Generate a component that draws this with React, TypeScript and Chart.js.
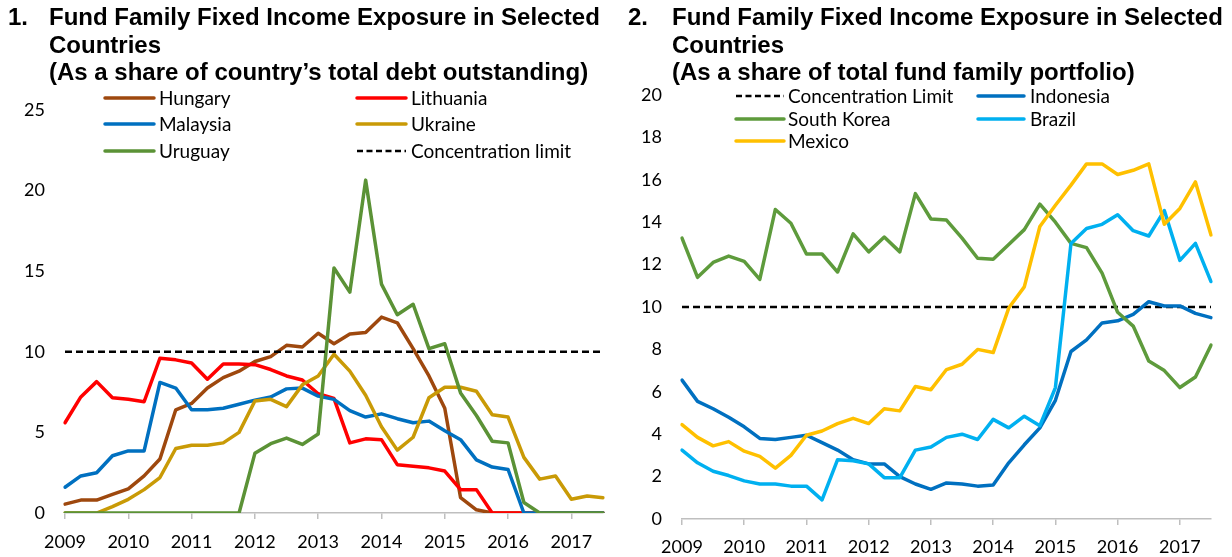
import React, { useEffect, useRef } from "react";
import { Chart, registerables } from "chart.js";

Chart.register(...registerables);

// ---------- categories (quarterly, 2009Q1 – 2017Q3) ----------
const quarters = [
  "2009Q1", "2009Q2", "2009Q3", "2009Q4",
  "2010Q1", "2010Q2", "2010Q3", "2010Q4",
  "2011Q1", "2011Q2", "2011Q3", "2011Q4",
  "2012Q1", "2012Q2", "2012Q3", "2012Q4",
  "2013Q1", "2013Q2", "2013Q3", "2013Q4",
  "2014Q1", "2014Q2", "2014Q3", "2014Q4",
  "2015Q1", "2015Q2", "2015Q3", "2015Q4",
  "2016Q1", "2016Q2", "2016Q3", "2016Q4",
  "2017Q1", "2017Q2", "2017Q3",
];

// ---------- panel 1: share of country's total debt outstanding ----------
const hungary = [
  0.55, 0.8, 0.8, 1.15, 1.5, 2.3, 3.35, 6.4, 6.8, 7.75, 8.4, 8.8,
  9.4, 9.7, 10.4, 10.3, 11.15, 10.5, 11.1, 11.2, 12.15, 11.8, 10.2, 8.5,
  6.5, 0.95, 0.2, 0, 0, 0, 0, 0, 0, 0, 0,
];
const lithuania = [
  5.6, 7.2, 8.15, 7.15, 7.05, 6.9, 9.6, 9.5, 9.3, 8.3, 9.25, 9.25,
  9.2, 8.9, 8.5, 8.25, 7.4, 7.1, 4.35, 4.6, 4.55, 3.0, 2.9, 2.8,
  2.6, 1.45, 1.45, 0, 0, 0, 0, 0, 0, 0, 0,
];
const malaysia = [
  1.6, 2.3, 2.5, 3.55, 3.85, 3.85, 8.1, 7.75, 6.4, 6.4, 6.5, 6.75,
  7.0, 7.2, 7.7, 7.75, 7.25, 7.05, 6.35, 5.95, 6.15, 5.85, 5.6, 5.7,
  5.1, 4.55, 3.3, 2.85, 2.7, 0, 0, 0, 0, 0, 0,
];
const ukraine = [
  0, 0, 0, 0.4, 0.85, 1.45, 2.2, 4.0, 4.2, 4.2, 4.35, 5.0,
  6.95, 7.05, 6.6, 7.95, 8.5, 9.85, 8.8, 7.3, 5.35, 3.9, 4.7, 7.15,
  7.8, 7.8, 7.55, 6.1, 5.95, 3.45, 2.1, 2.3, 0.85, 1.05, 0.95,
];
const uruguay = [
  0, 0, 0, 0, 0, 0, 0, 0, 0, 0, 0, 0,
  3.7, 4.3, 4.65, 4.25, 4.9, 15.2, 13.7, 20.65, 14.2, 12.3, 12.95, 10.2,
  10.5, 7.45, 6.05, 4.45, 4.35, 0.65, 0, 0, 0, 0, 0,
];
const concentrationLimit1 = Array(quarters.length).fill(10);

// ---------- panel 2: share of total fund family portfolio ----------
const indonesia = [
  6.55, 5.55, 5.2, 4.8, 4.35, 3.8, 3.75, 3.85, 3.95, 3.6, 3.25, 2.8,
  2.6, 2.6, 2.0, 1.65, 1.4, 1.7, 1.65, 1.55, 1.6, 2.65, 3.5, 4.3,
  5.6, 7.9, 8.45, 9.25, 9.35, 9.65, 10.25, 10.05, 10.05, 9.7, 9.5,
];
const southKorea = [
  13.25, 11.4, 12.1, 12.4, 12.15, 11.3, 14.6, 13.95, 12.5, 12.5, 11.65, 13.45,
  12.6, 13.3, 12.6, 15.35, 14.15, 14.1, 13.25, 12.3, 12.25, 12.95, 13.65, 14.85,
  14.0, 13.0, 12.8, 11.6, 9.75, 9.1, 7.45, 7.0, 6.2, 6.7, 8.2,
];
const brazil = [
  3.25, 2.65, 2.25, 2.05, 1.8, 1.65, 1.65, 1.55, 1.55, 0.9, 2.8, 2.75,
  2.6, 1.95, 1.95, 3.25, 3.4, 3.85, 4.0, 3.75, 4.7, 4.3, 4.85, 4.4,
  6.2, 13.0, 13.7, 13.9, 14.35, 13.6, 13.35, 14.55, 12.2, 13.0, 11.2,
];
const mexico = [
  4.45, 3.85, 3.45, 3.65, 3.2, 2.95, 2.4, 3.0, 3.95, 4.15, 4.5, 4.75,
  4.5, 5.2, 5.1, 6.25, 6.1, 7.05, 7.3, 8.0, 7.85, 9.95, 10.95, 13.8,
  14.8, 15.75, 16.75, 16.75, 16.25, 16.45, 16.75, 13.9, 14.65, 15.9, 13.4,
];
const concentrationLimit2 = Array(quarters.length).fill(10);

const FONT = "Lato, 'Noto Sans', sans-serif";

const legendPlugin = {
  id: "customLegend",
  afterDraw(chart: any, _args: any, opts: any) {
    const ctx = chart.ctx;
    (opts.items || []).forEach((item: any) => {
      const ds = chart.data.datasets.find((d: any) => d.label === item.label);
      if (!ds) return;
      ctx.save();
      ctx.strokeStyle = ds.borderColor;
      ctx.lineWidth = ds.borderWidth;
      ctx.lineCap = ds.borderDash ? "butt" : "round";
      ctx.setLineDash(ds.borderDash ? [6, 3.5] : []);
      ctx.beginPath();
      ctx.moveTo(item.x0, item.y);
      ctx.lineTo(item.x1, item.y);
      ctx.stroke();
      ctx.setLineDash([]);
      ctx.fillStyle = "#000";
      ctx.font = `19px ${FONT}`;
      ctx.textBaseline = "middle";
      ctx.textAlign = "left";
      ctx.fillText(item.label, item.tx, item.y + 1);
      ctx.restore();
    });
  },
};

function line(label: string, data: number[], color: string, order: number, dashed = false) {
  return {
    label,
    data,
    borderColor: color,
    backgroundColor: color,
    borderWidth: dashed ? 2.5 : 3.5,
    borderDash: dashed ? [7, 4] : undefined,
    pointRadius: 0,
    tension: 0,
    fill: false,
    order,
    borderJoinStyle: "round" as const,
    borderCapStyle: (dashed ? "butt" : "round") as any,
  };
}

function makeOptions(p: {
  yMax: number; yStep: number; yWidth: number; xHeight: number;
  padTop: number; padRight: number; xPad: number; legend: any[];
}) {
  return {
    animation: false as const,
    responsive: false,
    layout: { padding: { top: p.padTop, right: p.padRight, left: 0, bottom: 0 } },
    plugins: {
      legend: { display: false },
      tooltip: { enabled: false },
      customLegend: { items: p.legend },
    },
    scales: {
      x: {
        type: "category" as const,
        offset: false,
        border: { display: true, color: "#bfbfbf", width: 1.5 },
        grid: {
          display: true,
          drawOnChartArea: false,
          drawTicks: true,
          tickLength: 6,
          lineWidth: 1.5,
          color: (c: any) => (c.index % 4 === 0 ? "#bfbfbf" : "rgba(0,0,0,0)"),
        },
        ticks: {
          autoSkip: false,
          maxRotation: 0,
          minRotation: 0,
          padding: p.xPad,
          color: "#000",
          font: { family: FONT, size: 18 },
          callback: function (this: any, value: any) {
            const lab: string = this.getLabelForValue(value);
            return lab.endsWith("Q1") ? lab.slice(0, 4) : "";
          },
        },
        afterFit: (s: any) => { s.height = p.xHeight; },
      },
      y: {
        min: 0,
        max: p.yMax,
        border: { display: false },
        grid: { display: false, drawTicks: false },
        ticks: {
          stepSize: p.yStep,
          padding: 20,
          color: "#000",
          font: { family: FONT, size: 18 },
        },
        afterFit: (s: any) => { s.width = p.yWidth; },
      },
    },
  };
}

function ChartPanel({ config, left }: { config: any; left: number }) {
  const ref = useRef<HTMLCanvasElement>(null);
  useEffect(() => {
    if (!ref.current) return;
    const chart = new Chart(ref.current, config);
    return () => chart.destroy();
  }, []);
  return (
    <canvas
      ref={ref}
      width={616}
      height={557}
      style={{ position: "absolute", left, top: 0, width: 616, height: 557 }}
    />
  );
}

const titleStyle: React.CSSProperties = {
  position: "absolute",
  top: 3,
  fontFamily: "'Liberation Sans', Arial, sans-serif",
  fontWeight: "bold",
  fontSize: 24,
  lineHeight: "27.5px",
  color: "#000",
  whiteSpace: "nowrap",
};

export default function App() {
  const config1 = {
    type: "line",
    data: {
      labels: quarters,
      datasets: [
        line("Hungary", hungary, "#9E480E", 5),
        line("Lithuania", lithuania, "#FF0000", 4),
        line("Malaysia", malaysia, "#0070C0", 3),
        line("Ukraine", ukraine, "#C99A06", 2),
        line("Uruguay", uruguay, "#5B9236", 1),
        line("Concentration limit", concentrationLimit1, "#000000", 0, true),
      ],
    },
    options: makeOptions({
      yMax: 25, yStep: 5, yWidth: 65, xHeight: 44, padTop: 110, padRight: 13, xPad: 12,
      legend: [
        { label: "Hungary", x0: 105, x1: 154, tx: 159, y: 98 },
        { label: "Lithuania", x0: 357, x1: 406, tx: 411, y: 98 },
        { label: "Malaysia", x0: 105, x1: 154, tx: 159, y: 124 },
        { label: "Ukraine", x0: 357, x1: 406, tx: 411, y: 124 },
        { label: "Uruguay", x0: 105, x1: 154, tx: 159, y: 151 },
        { label: "Concentration limit", x0: 357, x1: 406, tx: 411, y: 151 },
      ],
    }),
    plugins: [legendPlugin],
  };

  const config2 = {
    type: "line",
    data: {
      labels: quarters,
      datasets: [
        line("Concentration Limit", concentrationLimit2, "#000000", 5, true),
        line("Indonesia", indonesia, "#0070C0", 4),
        line("South Korea", southKorea, "#5E9B3C", 3),
        line("Brazil", brazil, "#00B0F0", 2),
        line("Mexico", mexico, "#FFC000", 1),
      ],
    },
    options: makeOptions({
      yMax: 20, yStep: 2, yWidth: 66, xHeight: 38, padTop: 95, padRight: 21, xPad: 11,
      legend: [
        { label: "Concentration Limit", x0: 120, x1: 168, tx: 172, y: 96 },
        { label: "Indonesia", x0: 362, x1: 408, tx: 414, y: 96 },
        { label: "South Korea", x0: 120, x1: 168, tx: 172, y: 119 },
        { label: "Brazil", x0: 362, x1: 408, tx: 414, y: 119 },
        { label: "Mexico", x0: 120, x1: 168, tx: 172, y: 141 },
      ],
    }),
    plugins: [legendPlugin],
  };

  return (
    <div style={{ position: "fixed", left: 0, top: 0, width: 1232, height: 557, background: "#fff", overflow: "hidden" }}>
      <ChartPanel config={config1} left={0} />
      <ChartPanel config={config2} left={616} />
      <div style={{ ...titleStyle, left: 8 }}>1.</div>
      <div style={{ ...titleStyle, left: 49 }}>
        Fund Family Fixed Income Exposure in Selected
        <br />
        Countries
        <br />
        (As a share of country’s total debt outstanding)
      </div>
      <div style={{ ...titleStyle, left: 628 }}>2.</div>
      <div style={{ ...titleStyle, left: 672 }}>
        Fund Family Fixed Income Exposure in Selected
        <br />
        Countries
        <br />
        (As a share of total fund family portfolio)
      </div>
    </div>
  );
}
